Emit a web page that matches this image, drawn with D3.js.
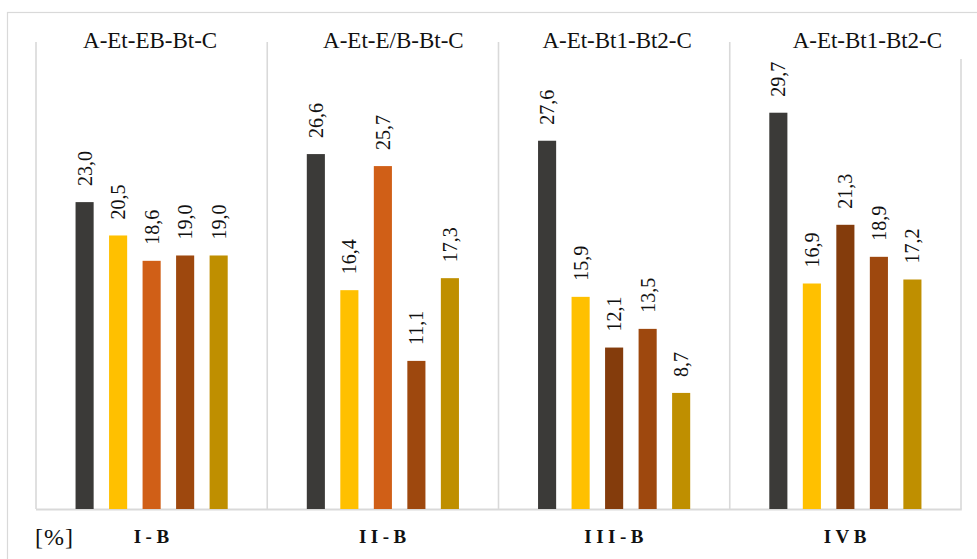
<!DOCTYPE html>
<html><head><meta charset="utf-8"><script src="https://cdn.jsdelivr.net/npm/d3@7"></script>
<style>
@font-face { font-family: "ChartSerif"; src: local("Liberation Serif"), local("LiberationSerif"), local("Times New Roman"); font-weight: normal; }
@font-face { font-family: "ChartSerif"; src: local("Liberation Serif Bold"), local("LiberationSerif-Bold"); font-weight: bold; }
</style>
</head>
<body style="margin:0">
<svg id="c" width="977" height="559"></svg>
<script>
// ---- data ----
const groups = ["I-B", "II-B", "III-B", "IVB"];
const profiles = ["A-Et-EB-Bt-C", "A-Et-E/B-Bt-C", "A-Et-Bt1-Bt2-C", "A-Et-Bt1-Bt2-C"];
const valuesIB = [23.0, 20.5, 18.6, 19.0, 19.0];
const valuesIIB = [26.6, 16.4, 25.7, 11.1, 17.3];
const valuesIIIB = [27.6, 15.9, 12.1, 13.5, 8.7];
const valuesIVB = [29.7, 16.9, 21.3, 18.9, 17.2];
const unitLabel = "[%]";

// ---- styles ----
const seriesValues = [valuesIB, valuesIIB, valuesIIIB, valuesIVB];
const coloursA = ["#3b3a38", "#ffc000", "#d05f17", "#9e480e", "#bf8f00"];
const coloursB = ["#3b3a38", "#ffc000", "#843c0c", "#9e480e", "#bf8f00"];
const panelColours = [coloursA, coloursA, coloursB, coloursB];
const titleOffsets = [-1.5, 10.5, 3, 22];
const grid = "#d9d9d9";
const FAM = "font-family: 'Liberation Serif', ChartSerif, 'Times New Roman', Times, serif;";

const s = d3.select("#c");

s.append("rect")
  .attr("x", 7.5).attr("y", 12.5)
  .attr("width", 1000).attr("height", 600)
  .attr("fill", "none").attr("stroke", grid).attr("stroke-width", 1.2);

const plotLeft = 36, plotRight = 961, plotTop = 42, plotBase = 509;

const x0 = d3.scaleBand().domain(groups).range([plotLeft, plotRight]).paddingInner(0).paddingOuter(0);
const x1 = d3.scaleBand().domain(d3.range(5)).range([0, x0.bandwidth()])
  .paddingInner(0.46).paddingOuter(1.18);
const y = d3.scaleLinear().domain([0, 35]).range([plotBase, plotTop]);

const edges = groups.map(g => x0(g)).concat([plotRight]);
s.selectAll("line.sep").data(edges).enter().append("line")
  .attr("class", "sep")
  .attr("x1", d => d).attr("x2", d => d)
  .attr("y1", (d, i) => i === edges.length - 1 ? 59 : plotTop)
  .attr("y2", plotBase)
  .attr("stroke", grid).attr("stroke-width", 1.6);

s.append("line")
  .attr("x1", plotLeft).attr("x2", plotRight + 0.8)
  .attr("y1", plotBase + 0.5).attr("y2", plotBase + 0.5)
  .attr("stroke", grid).attr("stroke-width", 2);

const panels = s.selectAll("g.panel").data(groups).enter().append("g")
  .attr("class", "panel")
  .attr("transform", d => `translate(${x0(d)},0)`);

panels.each(function(g, gi) {
  const p = d3.select(this);
  const vals = seriesValues[gi];
  p.selectAll("rect").data(vals).enter().append("rect")
    .attr("x", (d, i) => x1(i))
    .attr("width", x1.bandwidth())
    .attr("y", d => y(d))
    .attr("height", d => plotBase - y(d))
    .attr("fill", (d, i) => panelColours[gi][i]);

  p.selectAll("text.val").data(vals).enter().append("text")
    .attr("class", "val")
    .attr("transform", (d, i) => `translate(${x1(i) + x1.bandwidth() / 2 + 7},${y(d) - 16}) rotate(-90)`)
    .attr("style", FAM + " font-size: 20px;")
    .attr("fill", "#111")
    .text(d => d3.format(".1f")(d).replace(".", ","));

  p.append("text")
    .attr("x", x0.bandwidth() / 2 + titleOffsets[gi])
    .attr("y", 48)
    .attr("text-anchor", "middle")
    .attr("style", FAM + " font-size: 23px;")
    .attr("fill", "#111")
    .text(profiles[gi]);

  p.append("text")
    .attr("x", x0.bandwidth() / 2 + 2)
    .attr("y", 543)
    .attr("text-anchor", "middle")
    .attr("style", FAM + " font-size: 19px; font-weight: bold; letter-spacing: 4.5px;")
    .attr("fill", "#111")
    .text(g);
});

s.append("text")
  .attr("x", 35).attr("y", 545)
  .attr("style", FAM + " font-size: 24px; letter-spacing: 1px;")
  .attr("fill", "#111")
  .text(unitLabel);
</script></body></html>
